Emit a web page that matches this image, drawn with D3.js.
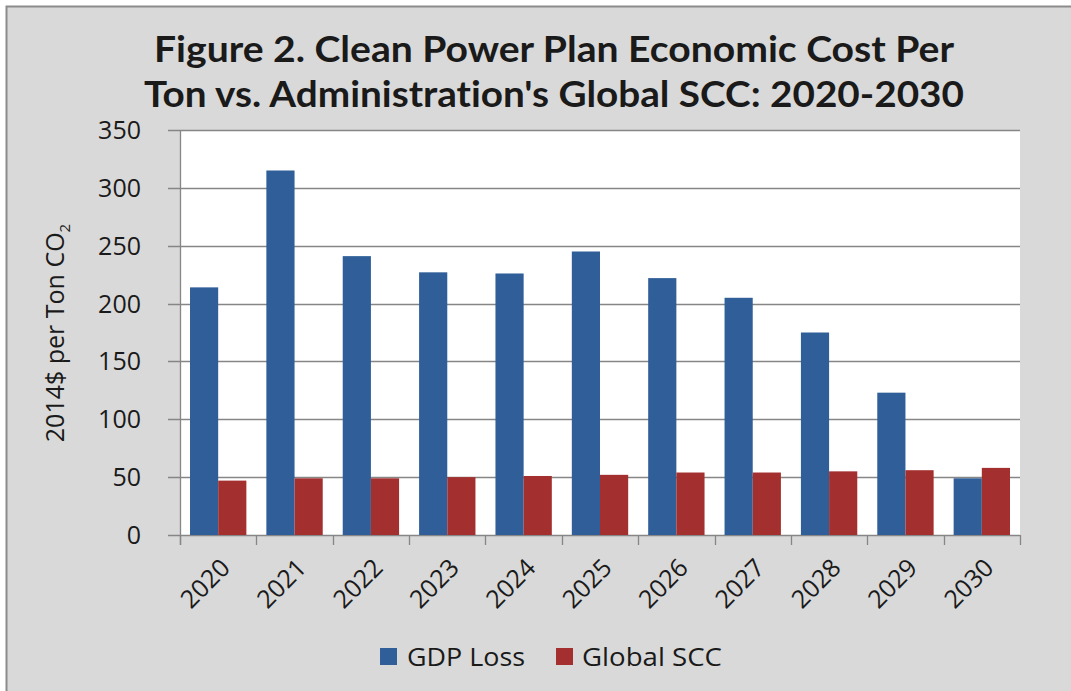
<!DOCTYPE html>
<html>
<head>
<meta charset="utf-8">
<script src="https://cdn.jsdelivr.net/npm/d3@7"></script>
<style>
  html, body { margin: 0; padding: 0; background: #ffffff; }
  svg { display: block; }
  text { font-family: "Open Sans", "Noto Sans", sans-serif; fill: #1a1a1a; }
  text.title { font-family: Lato, "Open Sans", sans-serif; font-variant-ligatures: none; font-feature-settings: "liga" 0; }
</style>
</head>
<body>
<svg id="chart" width="1071" height="691"></svg>
<script>
// Cost per ton of CO2 under the Clean Power Plan, 2020-2030
const years = ["2020","2021","2022","2023","2024","2025","2026","2027","2028","2029","2030"];
const gdpLoss = [214, 315, 241, 227, 226, 245, 222, 205, 175, 123, 49];
const globalSCC = [47, 49, 49, 50, 51, 52, 54, 54, 55, 56, 58];
const seriesNames = ["GDP Loss", "Global SCC"];
const seriesColors = ["#2f5e98", "#a3302e"];
const yTicks = [0, 50, 100, 150, 200, 250, 300, 350];
const titleLines = ["Figure 2. Clean Power Plan Economic Cost Per",
                    "Ton vs. Administration's Global SCC: 2020-2030"];

const svg = d3.select("#chart");
const W = 1071, H = 691;

// chart area background with border on top and left
svg.append("rect").attr("x", 6).attr("y", 6).attr("width", W - 6).attr("height", H - 6)
  .attr("fill", "#d9d9d9");
svg.append("path").attr("d", `M6.5,${H} V6.5 H${W}`)
  .attr("fill", "none").attr("stroke", "#8c8c8c").attr("stroke-width", 2);

const plot = { left: 180, right: 1020, top: 130, bottom: 535 };

const x0 = d3.scaleBand().domain(years).range([plot.left, plot.right])
  .paddingInner(0.262).paddingOuter(0.131);
const x1 = d3.scaleBand().domain(seriesNames).range([0, x0.bandwidth()]);
const y = d3.scaleLinear().domain([0, 350]).range([plot.bottom, plot.top]);

// plot area
svg.append("rect").attr("x", plot.left).attr("y", plot.top)
  .attr("width", plot.right - plot.left).attr("height", plot.bottom - plot.top)
  .attr("fill", "#ffffff");

// gridlines
svg.append("g").selectAll("line").data(yTicks).join("line")
  .attr("x1", plot.left - 12).attr("x2", plot.right)
  .attr("y1", d => Math.round(y(d)) + 0.5).attr("y2", d => Math.round(y(d)) + 0.5)
  .attr("stroke", "#868686").attr("stroke-width", 1.3);

// bars
const rows = years.map((yr, i) => ({ year: yr, values: [gdpLoss[i], globalSCC[i]] }));
const groups = svg.append("g").selectAll("g").data(rows).join("g")
  .attr("transform", d => `translate(${x0(d.year)},0)`);
groups.selectAll("rect").data(d => d.values.map((v, k) => ({ name: seriesNames[k], v, k })))
  .join("rect")
  .attr("x", d => x1(d.name))
  .attr("width", x1.bandwidth())
  .attr("y", d => y(d.v))
  .attr("height", d => y(0) - y(d.v))
  .attr("fill", d => seriesColors[d.k]);

// y axis line
svg.append("line").attr("x1", plot.left + 0.5).attr("x2", plot.left + 0.5)
  .attr("y1", plot.top).attr("y2", plot.bottom + 10)
  .attr("stroke", "#868686").attr("stroke-width", 1.3);

// x axis tick marks at category boundaries
const step = x0.step();
const bounds = years.map(d => x0(d) - x0.paddingInner() * step / 2);
bounds.push(plot.right);
svg.append("g").selectAll("line").data(bounds).join("line")
  .attr("x1", d => Math.round(d) + 0.5).attr("x2", d => Math.round(d) + 0.5)
  .attr("y1", plot.bottom).attr("y2", plot.bottom + 10)
  .attr("stroke", "#868686").attr("stroke-width", 1.3);

// y tick labels
svg.append("g").selectAll("text").data(yTicks).join("text")
  .attr("x", 141).attr("y", d => y(d))
  .attr("dy", "0.36em").attr("text-anchor", "end")
  .style("font-size", "25px")
  .text(d => d);

// x tick labels, rotated
svg.append("g").selectAll("text").data(years).join("text")
  .attr("transform", d => `translate(${x0(d) + x0.bandwidth() / 2 + 7},${plot.bottom + 28}) rotate(-45)`)
  .attr("text-anchor", "end").attr("dy", "0.36em")
  .style("font-size", "25px")
  .text(d => d);

// y axis title
const yTitle = svg.append("text")
  .attr("transform", `translate(64,333) rotate(-90)`)
  .attr("text-anchor", "middle")
  .style("font-size", "25px");
yTitle.append("tspan").text("2014$ per Ton CO");
yTitle.append("tspan").attr("dy", 6).style("font-size", "15px").text("2");

// title
svg.append("g").selectAll("text").data(titleLines).join("text")
  .attr("class", "title")
  .attr("x", 554).attr("y", (d, i) => 62 + i * 45)
  .attr("text-anchor", "middle")
  .attr("textLength", (d, i) => i === 0 ? 800 : 820)
  .attr("lengthAdjust", "spacingAndGlyphs")
  .style("font-size", "37px").style("font-weight", "bold")
  .text(d => d);

// legend
const legendItems = [
  { name: seriesNames[0], color: seriesColors[0], sx: 380, tx: 407, len: 118 },
  { name: seriesNames[1], color: seriesColors[1], sx: 556, tx: 582, len: 140 }
];
const lg = svg.append("g").selectAll("g").data(legendItems).join("g");
lg.append("rect").attr("x", d => d.sx).attr("y", 648).attr("width", 17).attr("height", 17)
  .attr("fill", d => d.color);
lg.append("text").attr("x", d => d.tx).attr("y", 657).attr("dy", "0.36em")
  .attr("textLength", d => d.len).attr("lengthAdjust", "spacingAndGlyphs")
  .style("font-size", "25px")
  .text(d => d.name);
</script>
</body>
</html>
